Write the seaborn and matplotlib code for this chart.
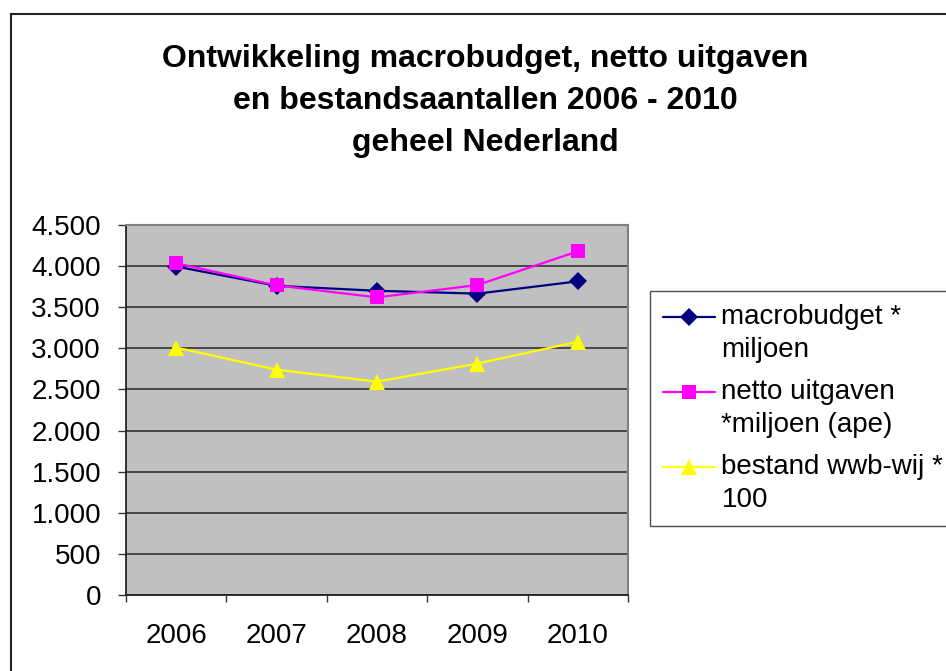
import matplotlib
matplotlib.use("Agg")
import matplotlib.pyplot as plt
import matplotlib.ticker as mticker
from matplotlib.patches import Rectangle
from matplotlib.legend_handler import HandlerLine2D
import seaborn as sns
import pandas as pd

years = ["2006", "2007", "2008", "2009", "2010"]
macrobudget = [3995, 3760, 3700, 3665, 3815]
netto_uitgaven = [4035, 3765, 3620, 3770, 4180]
bestand = [3010, 2740, 2595, 2815, 3080]

series_names = ["macrobudget *\nmiljoen", "netto uitgaven\n*miljoen (ape)", "bestand wwb-wij *\n100"]
title = "Ontwikkeling macrobudget, netto uitgaven\nen bestandsaantallen 2006 - 2010\ngeheel Nederland"
yticks = [0, 500, 1000, 1500, 2000, 2500, 3000, 3500, 4000, 4500]

sns.set_theme(style="white")
plt.rcParams["font.family"] = ["Liberation Sans", "DejaVu Sans"]
plt.rcParams["text.color"] = "black"
plt.rcParams["xtick.color"] = "black"
plt.rcParams["ytick.color"] = "black"
plt.rcParams["xtick.labelcolor"] = "black"
plt.rcParams["ytick.labelcolor"] = "black"

DPI = 100
W, H = 946, 671
fig = plt.figure(figsize=(W / DPI, H / DPI), dpi=DPI)
fig.patch.set_facecolor("white")

L, R, T, B = 126, 628, 225, 595
ax = fig.add_axes([L / W, 1 - B / H, (R - L) / W, (B - T) / H])
ax.set_facecolor("#C0C0C0")

df = pd.DataFrame({
    "year": years * 3,
    "value": macrobudget + netto_uitgaven + bestand,
    "series": [series_names[0]] * 5 + [series_names[1]] * 5 + [series_names[2]] * 5,
})

styles = [
    dict(color="#000080", marker="D", ms=9),
    dict(color="#FF00FF", marker="s", ms=10),
    dict(color="#FFFF00", marker="^", ms=11),
]
for name, st in zip(series_names, styles):
    sub = df[df["series"] == name]
    sns.lineplot(data=sub, x="year", y="value", ax=ax, color=st["color"],
                 marker=st["marker"], markersize=st["ms"], markeredgewidth=0,
                 linewidth=1.6, label=name, zorder=3)

ax.set_xlim(-0.5, 4.5)
ax.set_ylim(0, 4500)
ax.set_xlabel("")
ax.set_ylabel("")

ax.set_yticks(yticks)
ax.yaxis.set_major_formatter(mticker.FuncFormatter(lambda v, p: f"{int(v):,}".replace(",", ".")))
ax.grid(axis="y", color="#333333", linewidth=1.2)
ax.set_axisbelow(True)

ax.set_xticks([i - 0.5 for i in range(len(years) + 1)])
ax.set_xticklabels([""] * (len(years) + 1))
ax.set_xticks(range(len(years)), minor=True)
ax.set_xticklabels(years, minor=True)
ax.tick_params(axis="x", which="major", direction="out", length=5, width=1, color="#333333")
ax.tick_params(axis="x", which="minor", length=0, pad=20, labelsize=20, labelcolor="black")
ax.tick_params(axis="y", direction="out", length=6, width=1, color="#333333", pad=12,
               labelsize=20, labelcolor="black")
ax.tick_params(axis="both", left=True, bottom=True)

for s in ["left", "bottom"]:
    ax.spines[s].set_color("#222222")
    ax.spines[s].set_linewidth(1.3)
for s in ["top", "right"]:
    ax.spines[s].set_color("#808080")
    ax.spines[s].set_linewidth(1.5)

fig.text(485 / W, 1 - 101 / H, title, ha="center", va="center", fontsize=23,
         fontweight="bold", linespacing=1.52, color="black")


class TopHandler(HandlerLine2D):
    def create_artists(self, legend, orig_handle, xdescent, ydescent, width, height, fontsize, trans):
        return super().create_artists(legend, orig_handle, xdescent, ydescent - 1.2 * fontsize,
                                      width, height, fontsize, trans)


handles, labels = ax.get_legend_handles_labels()
if ax.legend_:
    ax.legend_.remove()
leg = fig.legend(handles, labels, loc="upper left", bbox_to_anchor=(650 / W, 1 - 291 / H),
                 fontsize=20, frameon=True, fancybox=False, handlelength=1.9,
                 handletextpad=0.22, borderpad=0.45, labelspacing=0.58, borderaxespad=0,
                 handler_map={h: TopHandler() for h in handles})
for t in leg.get_texts():
    t.set_linespacing(1.36)
    t.set_color("black")
leg.get_frame().set_edgecolor("#222222")
leg.get_frame().set_linewidth(1.0)
leg.get_frame().set_facecolor("white")

fig.add_artist(Rectangle((10.5 / W, -0.1), 1.2, (H - 13.5) / H + 0.1, transform=fig.transFigure,
                         fill=False, edgecolor="#222222", linewidth=1.5))

fig.savefig("out.png", dpi=DPI)
